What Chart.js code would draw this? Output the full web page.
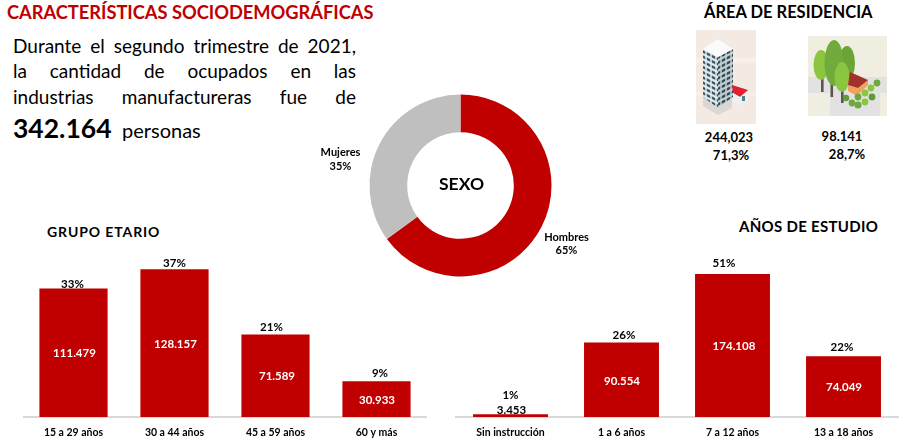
<!DOCTYPE html>
<html lang="es">
<head>
<meta charset="utf-8">
<title>Características sociodemográficas</title>
<script src="https://cdn.jsdelivr.net/npm/chart.js@4/dist/chart.umd.min.js"></script>
<style>
html,body{margin:0;padding:0;background:#fff;}
body{width:904px;height:444px;overflow:hidden;position:relative;font-family:Lato,"Open Sans",sans-serif;color:#000;}
.t{position:absolute;white-space:nowrap;line-height:1;transform:translateY(-50%);}
.b{font-weight:700;}
.c{transform:translate(-50%,-50%);}
.j{position:absolute;left:13px;width:343px;font-size:19px;line-height:1;text-align:justify;text-align-last:justify;transform:translateY(-50%);white-space:normal;}
canvas{position:absolute;display:block;}
svg{position:absolute;}
</style>
</head>
<body>
<div class="t b" style="left:7px;top:12px;font-size:18.3px;color:#c00000;letter-spacing:-.02px">CARACTERÍSTICAS SOCIODEMOGRÁFICAS</div>
<div class="j" style="top:45px">Durante el segundo trimestre de 2021,</div>
<div class="j" style="top:70px">la cantidad de ocupados en las</div>
<div class="j" style="top:96px">industrias manufactureras fue de</div>
<div class="t b" style="left:13px;top:128px;font-size:26.5px">342.164</div>
<div class="t" style="left:122px;top:130px;font-size:20px">personas</div>
<div class="t b" style="left:704px;top:12px;font-size:16.5px">ÁREA DE RESIDENCIA</div>
<div class="t b" style="left:47px;top:232px;font-size:14px;letter-spacing:.9px">GRUPO ETARIO</div>
<div class="t b" style="left:739px;top:226px;font-size:15px;letter-spacing:.3px">AÑOS DE ESTUDIO</div>
<div class="t b c" style="left:729px;top:137px;font-size:13px">244,023</div>
<div class="t b c" style="left:731px;top:155px;font-size:13px">71,3%</div>
<div class="t b c" style="left:842px;top:136px;font-size:13px">98.141</div>
<div class="t b c" style="left:847px;top:154px;font-size:13px">28,7%</div>

<svg style="left:696px;top:30px" width="60" height="94" viewBox="0 0 60 94">
<defs>
<filter id="soft"><feGaussianBlur stdDeviation=".45"/></filter>
<pattern id="winL" width="5" height="5.2" patternUnits="userSpaceOnUse" patternTransform="skewY(27)"><rect width="5" height="5.2" fill="#e4ecee"/><rect x=".7" y="1.1" width="3.6" height="2.6" fill="#33525e"/></pattern>
<pattern id="winR" width="5" height="5.2" patternUnits="userSpaceOnUse" patternTransform="skewY(-27)"><rect width="5" height="5.2" fill="#c4d0d4"/><rect x=".7" y="1.1" width="3.6" height="2.6" fill="#2c4450"/></pattern>
</defs>
<rect width="60" height="94" fill="#f2eae3"/>
<rect y="28" width="60" height="5" fill="#f8efe6"/><rect y="62" width="60" height="4" fill="#f8efe6"/>
<g filter="url(#soft)">
<path d="M7 67 L22 78 L36 68 L36 78 L22 85 L7 76Z" fill="#dbd7d2"/>
<path d="M7 19 L22 27 L22 78 L7 67Z" fill="url(#winL)"/>
<path d="M22 27 L37 19 L37 67 L22 78Z" fill="url(#winR)"/>
<path d="M22 9 L37 19 L22 27 L7 19Z" fill="#fbfbfb"/>
<path d="M36 55 L52 60 L44 67 L37 63Z" fill="#e0202e"/>
<path d="M44 67 L52 62 L52 70 L42 75 L37 72 L37 63Z" fill="#eef1f2"/>
<rect x="46" y="66" width="3" height="5" fill="#4b7f90"/>
</g>
</svg>

<svg style="left:808px;top:36px" width="79" height="80" viewBox="0 0 79 80">
<rect width="79" height="80" fill="#efeee0"/>
<rect y="41" width="79" height="16" fill="#e2e2e2"/>
<rect x="22" y="57" width="50" height="23" fill="#e2e2e2"/>
<g filter="url(#soft)">
<rect x="13" y="40" width="2.6" height="16" fill="#5b5450"/>
<rect x="22.5" y="44" width="2.6" height="17" fill="#5b5450"/>
<rect x="33" y="52" width="2.6" height="15" fill="#5b5450"/>
<ellipse cx="39" cy="27" rx="8" ry="17" fill="#6aa536"/>
<ellipse cx="13" cy="29" rx="7.5" ry="15" fill="#8cc63f"/>
<ellipse cx="26" cy="27" rx="9.5" ry="23" fill="#6fab3a"/>
<ellipse cx="34" cy="41" rx="7.5" ry="15" fill="#8cc63f"/>
<path d="M40 49 L50 52 L60 44 L60 49 L49 60 L40 55Z" fill="#f0a35c"/>
<path d="M42 36 L60 44 L50 52 L40 49Z" fill="#a2302a"/>
<circle cx="69" cy="47" r="3.4" fill="#6fa840"/><circle cx="63" cy="52" r="3.4" fill="#8cc63f"/>
<circle cx="57" cy="57" r="3.4" fill="#8cc63f"/><circle cx="64" cy="61" r="3.4" fill="#5f9a3a"/>
<circle cx="50" cy="61" r="3.4" fill="#6fa840"/><circle cx="57" cy="66" r="3.4" fill="#8cc63f"/>
<circle cx="50" cy="69" r="3.6" fill="#6fa840"/><circle cx="44" cy="67" r="3.4" fill="#6fa840"/>
<circle cx="38" cy="62" r="3.2" fill="#5f9a3a"/>
</g>
</svg>

<canvas id="donut" style="left:300px;top:85px" width="321" height="201"></canvas>
<canvas id="edad" style="left:23px;top:240px" width="404" height="204"></canvas>
<canvas id="estudio" style="left:455px;top:240px" width="444" height="204"></canvas>

<script>
const RED = '#c00000', GREY = '#bfbfbf', AXIS = '#d9d9d9';
const FONT = 'Lato, "Open Sans", sans-serif';

// Sexo
const sexoLabels = ['Hombres', 'Mujeres'];
const sexoValues = [65, 35];

// Grupo etario
const edadLabels = ['15 a 29 años', '30 a 44 años', '45 a 59 años', '60 y más'];
const edadValues = [111479, 128157, 71589, 30933];
const edadPct = ['33%', '37%', '21%', '9%'];
const edadText = ['111.479', '128.157', '71.589', '30.933'];

// Años de estudio
const estudioLabels = ['Sin instrucción', '1 a 6 años', '7 a 12 años', '13 a 18 años'];
const estudioValues = [3453, 90554, 174108, 74049];
const estudioPct = ['1%', '26%', '51%', '22%'];
const estudioText = ['3.453', '90.554', '174.108', '74.049'];

// Label nudges relative to each bar, as placed in the reference
const edadPctDx = [-1, 0, -4, 3.5], edadPctDy = [-4.5, -6, -7, -8], edadValDx = [1, 1, 1.5, 0.5];
const estudioPctDx = [0, 2.5, -8.5, -1.5], estudioPctDy = [-19, -7, -11, -9], estudioValDx = [1, 0.5, 1.5, 0.5];

function barLabels(pct, text, pdx, pdy, vdx) {
  return {
    id: 'barLabels',
    afterDatasetsDraw(chart) {
      const ctx = chart.ctx, bars = chart.getDatasetMeta(0).data;
      ctx.save();
      ctx.textAlign = 'center';
      ctx.textBaseline = 'middle';
      bars.forEach((b, i) => {
        ctx.font = '700 11.5px ' + FONT;
        ctx.fillStyle = '#000';
        ctx.fillText(pct[i], b.x + pdx[i], b.y + pdy[i]);
        const tall = b.base - b.y > 20;
        ctx.font = '700 11.5px ' + FONT;
        ctx.fillStyle = tall ? '#fff' : '#000';
        const y = tall ? (b.y + b.base) / 2 + 1 : b.y - 4;
        ctx.fillText(text[i], b.x + vdx[i], y);
      });
      ctx.restore();
    }
  };
}

function barChart(id, labels, values, yMax, plugin) {
  return new Chart(document.getElementById(id), {
    type: 'bar',
    data: { labels, datasets: [{ data: values, backgroundColor: RED, borderWidth: 0,
      barPercentage: 0.675, categoryPercentage: 1 }] },
    options: {
      responsive: false, animation: false, events: [],
      layout: { padding: 0 },
      plugins: { legend: { display: false }, tooltip: { enabled: false } },
      scales: {
        x: {
          grid: { display: false, drawTicks: false },
          border: { display: true, color: AXIS, width: 2 },
          ticks: { color: '#000', padding: 9, maxRotation: 0, autoSkip: false,
            font: { family: FONT, size: 10.5, weight: '700' } },
          afterFit: s => { s.height = 27; }
        },
        y: { display: false, min: 0, max: yMax }
      }
    },
    plugins: [plugin]
  });
}

barChart('edad', edadLabels, edadValues, 153600, barLabels(edadPct, edadText, edadPctDx, edadPctDy, edadValDx));
barChart('estudio', estudioLabels, estudioValues, 215500, barLabels(estudioPct, estudioText, estudioPctDx, estudioPctDy, estudioValDx));

const donutLabels = {
  id: 'donutLabels',
  afterDatasetsDraw(chart) {
    const ctx = chart.ctx, arc = chart.getDatasetMeta(0).data[0];
    const cx = arc.x, cy = arc.y;
    ctx.save();
    ctx.textAlign = 'center';
    ctx.textBaseline = 'middle';
    ctx.fillStyle = '#000';
    ctx.font = '700 17.5px ' + FONT;
    ctx.fillText('SEXO', cx + 1, cy - 1);
    ctx.font = '700 11px ' + FONT;
    const spots = [[106, 51.5, 64.5], [-120, -33.5, -19.5]];
    sexoLabels.forEach((name, i) => {
      ctx.fillText(name, cx + spots[i][0], cy + spots[i][1]);
      ctx.fillText(sexoValues[i] + '%', cx + spots[i][0], cy + spots[i][2]);
    });
    ctx.restore();
  }
};

new Chart(document.getElementById('donut'), {
  type: 'doughnut',
  data: { labels: sexoLabels, datasets: [{ data: sexoValues, backgroundColor: [RED, GREY],
    borderWidth: 0 }] },
  options: {
    responsive: false, animation: false, events: [],
    cutout: '58.6%', radius: 91,
    layout: { padding: 0 },
    plugins: { legend: { display: false }, tooltip: { enabled: false } }
  },
  plugins: [donutLabels]
});
</script>
</body>
</html>
